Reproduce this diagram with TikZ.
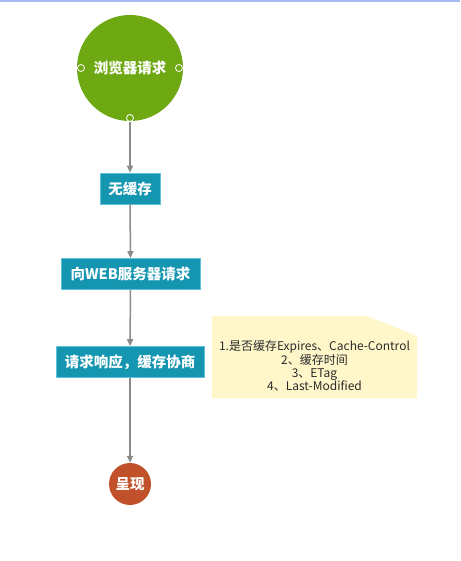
\documentclass[tikz,border=0pt]{standalone}
\usepackage{fontspec}
\setmainfont{Noto Sans CJK SC}
\usetikzlibrary{arrows.meta}
\definecolor{topline}{HTML}{A6BCF2}
\definecolor{startgreen}{HTML}{6EA914}
\definecolor{boxteal}{HTML}{1495B0}
\definecolor{boxedge}{HTML}{5FC0D6}
\definecolor{endred}{HTML}{C0512A}
\definecolor{notefill}{HTML}{FFF7C9}
\definecolor{notetext}{HTML}{2A2A2A}
\definecolor{arrowgray}{HTML}{8A8A8A}
\tikzset{
  stepbox/.style={draw=boxedge, line width=0.8pt, fill=boxteal, text=white, font=\fontsize{14.5}{16}\selectfont\bfseries, inner sep=0pt, minimum height=31pt},
  flow/.style={draw=arrowgray, line width=1.5pt, -{Triangle[length=7pt,width=6pt]}},
  port/.style={circle, draw=white, line width=0.8pt, fill=none, minimum size=7pt, inner sep=0pt}
}
\begin{document}
\begin{tikzpicture}[x=1pt,y=-1pt]
\useasboundingbox (0,0) rectangle (460,561);
\fill[white] (0,0) rectangle (460,561);
\fill[topline] (0,0) rectangle (460,2.5);
% start
\node[circle, fill=startgreen, minimum size=106pt, inner sep=0pt, text=white, font=\fontsize{14.5}{16}\selectfont\bfseries] (start) at (130,68) {浏览器请求};
\node[port] (pl) at (81,68) {};
\node[port] (pr) at (179,68) {};
\node[port] (pb) at (130,118) {};
% boxes
\node[stepbox, minimum width=60pt] (b1) at (130,188.5) {无缓存};
\node[stepbox, minimum width=139pt] (b2) at (130.5,274) {向WEB服务器请求};
\node[stepbox, minimum width=148pt] (b3) at (130,362) {请求响应，缓存协商};
% end
\node[circle, fill=endred, minimum size=42pt, inner sep=0pt, text=white, font=\fontsize{14.5}{16}\selectfont\bfseries] (fin) at (130,484) {呈现};
% arrows
\draw[flow] (pb.south) -- (b1.north);
\draw[flow] (b1.south) -- (b2.north);
\draw[flow] (b2.south) -- (b3.north);
\draw[flow] (b3.south) -- (fin.north);
% note
\fill[notefill] (212,316) -- (367,316) -- (417,336) -- (417,398) -- (212,398) -- cycle;
\node[text=notetext, align=center, font=\fontsize{12}{12.8}\selectfont, inner sep=0pt] (note) at (314.5,366) {1.是否缓存Expires、Cache-Control\\2、缓存时间\\3、ETag\\4、Last-Modified};
\end{tikzpicture}
\end{document}
